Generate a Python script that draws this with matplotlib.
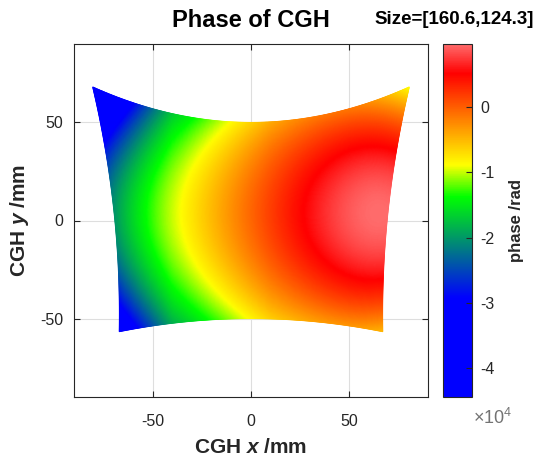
import numpy as np
import matplotlib
matplotlib.use("Agg")
import matplotlib.pyplot as plt
from matplotlib.colors import LinearSegmentedColormap

plt.rcParams["font.family"] = ["Liberation Sans", "DejaVu Sans"]
plt.rcParams["mathtext.fontset"] = "custom"
plt.rcParams["mathtext.it"] = "Liberation Sans:italic:bold"
plt.rcParams["mathtext.rm"] = "Liberation Sans:bold"
plt.rcParams["axes.unicode_minus"] = False

# ---------------- data ----------------
# CGH outline (mm): half width of the side edges as polynomial in v (A + B v + C v^2)
side_halfwidth_coef = [69.8, 6.75, 3.95]
top_mid_y = 50.0          # top edge at x = 0
bottom_mid_y = -50.0      # bottom edge at x = 0
top_corner_rise = 18.1    # top corners lie 18.1 mm above the top middle
bottom_corner_drop = 6.7  # bottom corners lie 6.7 mm below the bottom middle

# phase map parameters (rad, in units of 1e4)
phase_peak = 0.97
peak_x = 65.0
peak_y = 4.0
slope_far = 0.025
peak_round = 31.1
left_steep = 3.6e-4
left_knee = -40.0
y_curv0 = 2.75e-4
y_curv_left = 7.5e-6
y_curv_right = 2.2e-6
y_curv_right_knee = 10.0

clim = [-4.44, 0.97]                 # colorbar range (x1e4)
cbar_ticks = [-4, -3, -2, -1, 0]
axis_ticks = [-50, 0, 50]
axis_lim = [-90, 90]
size_text = "Size=[160.6,124.3]"

# colormap stops
cmap_pos = [0.0, 0.28, 0.567, 0.657, 0.917, 1.0]
cmap_col = [(0, 0, 1), (0, 0, 1), (0, 1, 0), (1, 1, 0), (1, 0, 0), (1, 0.42, 0.42)]

# ---------------- build grid ----------------
u = np.linspace(-1, 1, 241)
v = np.linspace(-1, 1, 241)
U, V = np.meshgrid(u, v)
A, B, C = side_halfwidth_coef
k_mid = (top_corner_rise - bottom_corner_drop) / 2
k_slope = (top_corner_rise + bottom_corner_drop) / 2
X = U * (A + B * V + C * V ** 2)
Y = (top_mid_y - bottom_mid_y) / 2 * V + (top_mid_y + bottom_mid_y) / 2 + U ** 2 * (k_mid + k_slope * V)

Xd = X - peak_x
P = phase_peak - slope_far * (np.sqrt(Xd ** 2 + peak_round ** 2) - peak_round) \
    - left_steep * np.clip(left_knee - X, 0, None) ** 2
Q = -(y_curv0 + y_curv_left * np.clip(left_knee - X, 0, None)
      + y_curv_right * np.clip(X - y_curv_right_knee, 0, None))
PH = (P + Q * (Y - peak_y) ** 2) * 1e4

cmap = LinearSegmentedColormap.from_list("cgh", list(zip(cmap_pos, cmap_col)), N=512)

# ---------------- figure ----------------
W, H = 537, 457
fig = plt.figure(figsize=(W / 100, H / 100), dpi=100)
ax = fig.add_axes([74 / W, 1 - 397 / H, 354 / W, 353 / H])
cax = fig.add_axes([443 / W, 1 - 396.7 / H, 29.3 / W, 352.7 / H])

tc = (0.15, 0.15, 0.15)
ax.set_axisbelow(True)
ax.grid(True, color=(0.87, 0.87, 0.87), lw=0.8)
mesh = ax.pcolormesh(X, Y, PH, shading="gouraud", cmap=cmap,
                     vmin=clim[0] * 1e4, vmax=clim[1] * 1e4, rasterized=True)
ax.set_xlim(axis_lim)
ax.set_ylim(axis_lim)
ax.set_xticks(axis_ticks)
ax.set_yticks(axis_ticks)
ax.tick_params(direction="in", top=True, right=True, length=4, width=0.8,
               colors=tc, labelsize=11.5)
ax.tick_params(axis="x", pad=12)
ax.tick_params(axis="y", pad=8)
for s in ax.spines.values():
    s.set_color(tc)
    s.set_linewidth(0.8)

ax.set_xlabel("CGH $x$ /mm", fontsize=15, fontweight="bold", color=tc, labelpad=7)
ax.set_ylabel("CGH $y$ /mm", fontsize=15, fontweight="bold", color=tc, labelpad=6)
ax.set_title("Phase of CGH", fontsize=17, fontweight="bold", color="black", pad=12)
fig.text(534 / W, 1 - 19 / H, size_text, fontsize=13.5, fontweight="bold",
         ha="right", va="center", color="black")

cb = fig.colorbar(mesh, cax=cax)
cb.set_ticks([t * 1e4 for t in cbar_ticks])
cb.set_ticklabels([str(t) for t in cbar_ticks])
cb.ax.tick_params(direction="in", length=4, width=0.8, colors=tc, labelsize=11.5, pad=6)
cb.outline.set_edgecolor(tc)
cb.outline.set_linewidth(0.8)
cb.set_label("phase /rad", fontsize=12, fontweight="bold", color=tc, labelpad=10)
fig.text(473 / W, 1 - 418 / H, "\u00d710$^{\\mathregular{4}}$", fontsize=13,
         fontweight="normal", color=(0.45, 0.45, 0.45), ha="left", va="center")

fig.savefig("out.png", dpi=100)
